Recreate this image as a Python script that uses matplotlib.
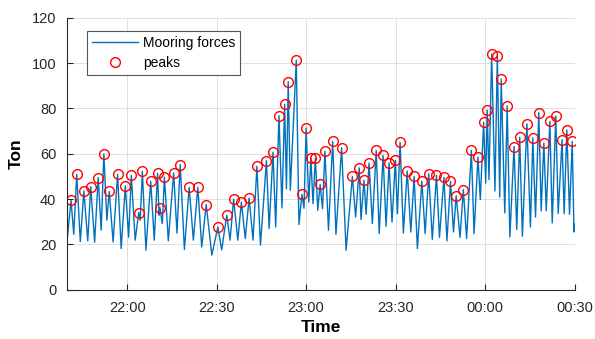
import numpy as np
import pandas as pd
import matplotlib
matplotlib.use("Agg")
import matplotlib.pyplot as plt
import matplotlib.dates as mdates

plt.rcParams['font.family'] = ['Liberation Sans', 'DejaVu Sans']

# record starts 21:40, values are minutes after that
start = pd.Timestamp('2021-03-14 21:40')

# detected peaks of the mooring force (minutes, ton)
peak_min = [1.2, 3.1, 5.5, 7.8, 10.3, 12.2, 14.0, 16.8, 19.4, 21.4,
            23.9, 25.1, 27.9, 30.2, 31.0, 32.5, 35.6, 37.8, 40.8, 43.7,
            46.5, 50.4, 53.4, 55.7, 58.3, 60.9, 63.5, 66.7, 68.9, 70.9,
            72.8, 74.0, 76.7, 78.6, 80.0, 81.6, 83.1, 84.7, 86.3, 88.9,
            91.9, 95.5, 97.8, 99.4, 101.1, 103.5, 105.8, 107.8, 109.9, 111.5,
            113.9, 116.2, 118.8, 121.1, 123.7, 126.2, 128.4, 130.3, 132.7, 135.4,
            137.6, 139.5, 140.7, 142.2, 144.1, 145.4, 147.4, 149.7, 151.6, 154.0,
            156.0, 158.0, 159.7, 161.7, 163.7, 165.8, 167.4, 169.2]
peak_ton = [39.5, 50.9, 43.6, 45.5, 49.5, 60.0, 43.4, 50.9, 45.8, 50.5,
            34.1, 52.2, 47.8, 51.4, 36.3, 49.7, 51.6, 55.2, 45.2, 45.2,
            37.6, 27.7, 32.9, 40.0, 38.7, 40.5, 54.5, 57.0, 60.7, 76.8,
            81.8, 91.8, 101.3, 42.1, 71.4, 58.1, 58.1, 46.5, 61.1, 65.5,
            62.6, 50.0, 53.8, 48.3, 55.9, 61.5, 59.3, 56.0, 57.1, 65.1,
            52.4, 50.0, 47.9, 51.2, 50.5, 49.6, 47.8, 41.5, 44.2, 61.5,
            58.5, 73.9, 79.3, 104.0, 103.3, 93.0, 81.1, 63.2, 67.3, 73.2,
            67.1, 78.2, 64.7, 74.3, 76.7, 66.2, 70.5, 65.5]

# low points between the peaks, incl. first and last sample
trough_min = [0.0, 2.1, 4.3, 6.8, 9.1, 11.3, 13.2, 15.3, 18.0, 20.5,
              22.7, 24.4, 26.3, 29.1, 30.7, 31.8, 33.8, 36.7, 39.2, 42.2,
              45.0, 48.4, 51.7, 54.5, 57.1, 59.6, 62.2, 64.7, 67.6, 69.8,
              71.9, 73.4, 74.7, 77.6, 79.3, 80.9, 82.3, 83.9, 85.5, 87.5,
              90.0, 93.4, 96.6, 98.4, 100.1, 102.2, 104.5, 106.8, 108.8, 110.6,
              112.6, 115.1, 117.3, 119.9, 122.3, 124.7, 127.2, 129.4, 131.6, 133.8,
              136.3, 138.4, 140.2, 141.3, 143.3, 144.9, 146.6, 148.3, 150.6, 152.5,
              155.2, 156.9, 158.8, 160.5, 162.5, 164.5, 166.5, 168.3, 169.8, 170.0]
trough_ton = [23.5, 24.5, 21.3, 21.6, 21.0, 26.3, 30.7, 21.1, 18.2, 23.2,
              21.9, 30.7, 17.5, 21.9, 32.9, 29.2, 21.6, 25.0, 17.8, 21.9,
              18.9, 15.3, 17.6, 21.9, 21.9, 22.6, 21.9, 19.7, 27.0, 27.7,
              36.1, 44.6, 43.9, 28.8, 36.0, 38.7, 38.0, 35.1, 35.8, 26.3,
              24.5, 17.5, 32.1, 31.0, 33.3, 29.2, 24.8, 28.0, 29.9, 33.6,
              25.1, 25.5, 18.2, 24.8, 22.2, 23.1, 21.6, 25.5, 23.1, 22.6,
              24.8, 39.8, 47.1, 48.6, 43.6, 40.9, 33.9, 23.3, 26.6, 23.6,
              27.7, 32.1, 34.8, 34.8, 29.5, 33.6, 33.6, 33.3, 25.5, 29.0]

# full force trace = peaks and troughs in time order
force = pd.DataFrame({'min': peak_min + trough_min,
                      'ton': peak_ton + trough_ton}).sort_values('min')
force['time'] = start + pd.to_timedelta(force['min'], unit='m')
peaks = pd.DataFrame({'time': start + pd.to_timedelta(peak_min, unit='m'),
                      'ton': peak_ton})

axcol = '#262626'
fig = plt.figure(figsize=(5.95, 3.39), dpi=100)
ax = fig.add_axes([0.1134, 0.1451, 0.8523, 0.8024])

ax.plot(force['time'], force['ton'], color='#0072BD', lw=1.0,
        label='Mooring forces')
ax.plot(peaks['time'], peaks['ton'], 'o', mfc='none', mec='red',
        ms=7, mew=1.0, label='peaks')

ax.set_xlim(start, start + pd.Timedelta(minutes=170))
ax.set_ylim(0, 120)
ax.set_yticks(np.arange(0, 121, 20))
ax.xaxis.set_major_locator(mdates.MinuteLocator(byminute=[0, 30]))
ax.xaxis.set_major_formatter(mdates.DateFormatter('%H:%M'))

ax.grid(True, color='#DFDFDF', lw=0.7)
ax.set_axisbelow(True)
for side in ['top', 'right']:
    ax.spines[side].set_visible(False)
for side in ['left', 'bottom']:
    ax.spines[side].set_color(axcol)
    ax.spines[side].set_linewidth(0.8)
ax.tick_params(direction='in', length=4, width=0.8, colors=axcol,
               labelsize=10.5, pad=8)

ax.set_xlabel('Time', fontsize=12.5, fontweight='bold', color='black',
              labelpad=4)
ax.set_ylabel('Ton', fontsize=12.5, fontweight='bold', color='black',
              labelpad=6)

leg = ax.legend(loc='upper left', bbox_to_anchor=(0.039, 0.9526),
                borderaxespad=0, fancybox=False, fontsize=10,
                handlelength=3.3, handletextpad=0.35, borderpad=0.35,
                labelspacing=0.45, framealpha=1)
leg.get_frame().set_edgecolor('#555555')
leg.get_frame().set_linewidth(0.8)

fig.savefig('out.png', dpi=100)
